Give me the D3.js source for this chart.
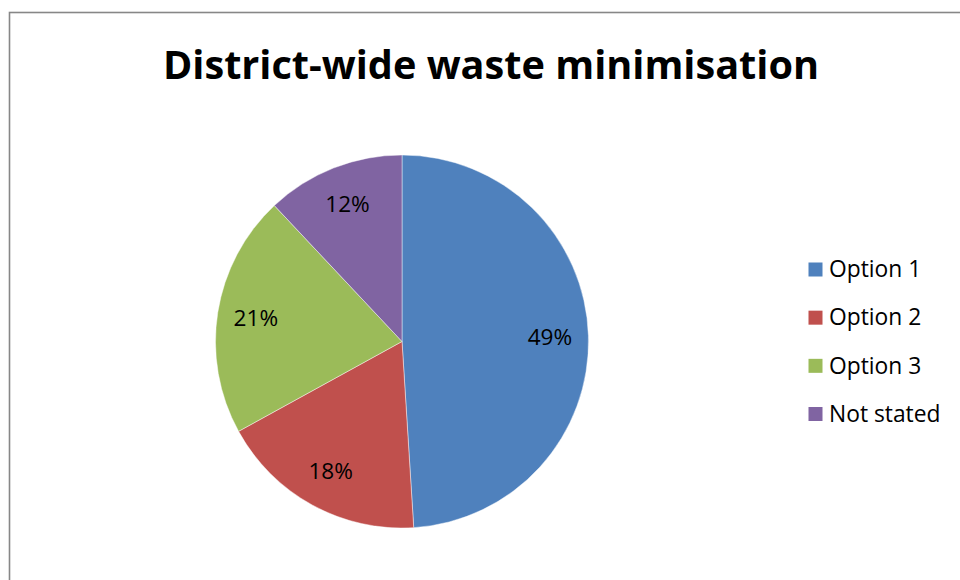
<!DOCTYPE html>
<html>
<head>
<meta charset="utf-8">
<script src="https://cdn.jsdelivr.net/npm/d3@7"></script>
<style>
  html, body { margin: 0; padding: 0; background: #fff; }
  svg { display: block; }
</style>
</head>
<body>
<svg id="chart" width="960" height="580"></svg>
<script>
// Survey responses (percent of respondents)
const categories = ["Option 1", "Option 2", "Option 3", "Not stated"];
const values = [49, 18, 21, 12];
const colors = ["#4F81BD", "#C0504D", "#9BBB59", "#8064A2"];
const title = "District-wide waste minimisation";

const svg = d3.select("#chart");

// chart area frame
svg.append("rect")
  .attr("x", 9.5).attr("y", 12.5)
  .attr("width", 1000).attr("height", 1000)
  .attr("fill", "#fff")
  .attr("stroke", "#878787")
  .attr("stroke-width", 1.6);

// title
svg.append("text")
  .attr("x", 491).attr("y", 78.5)
  .attr("text-anchor", "middle")
  .attr("font-family", "'Open Sans', sans-serif")
  .attr("font-weight", 700)
  .attr("font-size", 40)
  .attr("textLength", 656)
  .attr("lengthAdjust", "spacingAndGlyphs")
  .attr("fill", "#000")
  .text(title);

// pie
const cx = 402, cy = 341.5, R = 186.5;
const data = categories.map((c, i) => ({ name: c, value: values[i] }));
const color = d3.scaleOrdinal().domain(categories).range(colors);

const pie = d3.pie().value(d => d.value).sort(null);
const arcs = pie(data);
const arc = d3.arc().innerRadius(0).outerRadius(R);
const labelArc = d3.arc().innerRadius(148).outerRadius(148);

const g = svg.append("g").attr("transform", `translate(${cx},${cy})`);

g.selectAll("path.slice")
  .data(arcs)
  .enter().append("path")
  .attr("class", "slice")
  .attr("d", arc)
  .attr("fill", d => color(d.data.name))
  .attr("stroke", "rgba(255,255,255,0.55)")
  .attr("stroke-width", 0.8);

const total = d3.sum(values);
g.selectAll("text.pct")
  .data(arcs)
  .enter().append("text")
  .attr("class", "pct")
  .attr("transform", d => {
    const [x, y] = labelArc.centroid(d);
    return `translate(${x},${y})`;
  })
  .attr("dy", 7.8)
  .attr("text-anchor", "middle")
  .attr("font-family", "'Open Sans', sans-serif")
  .attr("font-size", 22.6)
  .attr("fill", "#000")
  .text(d => Math.round(d.data.value / total * 100) + "%");

// legend
const legend = svg.append("g").attr("transform", "translate(808.5,269.5)");
const rowY = d3.scalePoint().domain(categories).range([0, 144.5]);

const item = legend.selectAll("g.item")
  .data(categories)
  .enter().append("g")
  .attr("class", "item")
  .attr("transform", d => `translate(0,${rowY(d)})`);

item.append("rect")
  .attr("x", 0).attr("y", -7)
  .attr("width", 14).attr("height", 14)
  .attr("fill", d => color(d));

item.append("text")
  .attr("x", 20.5).attr("y", 7.8)
  .attr("font-family", "'Open Sans', sans-serif")
  .attr("font-size", 22.8)
  .attr("fill", "#000")
  .text(d => d);
</script>
</body>
</html>
